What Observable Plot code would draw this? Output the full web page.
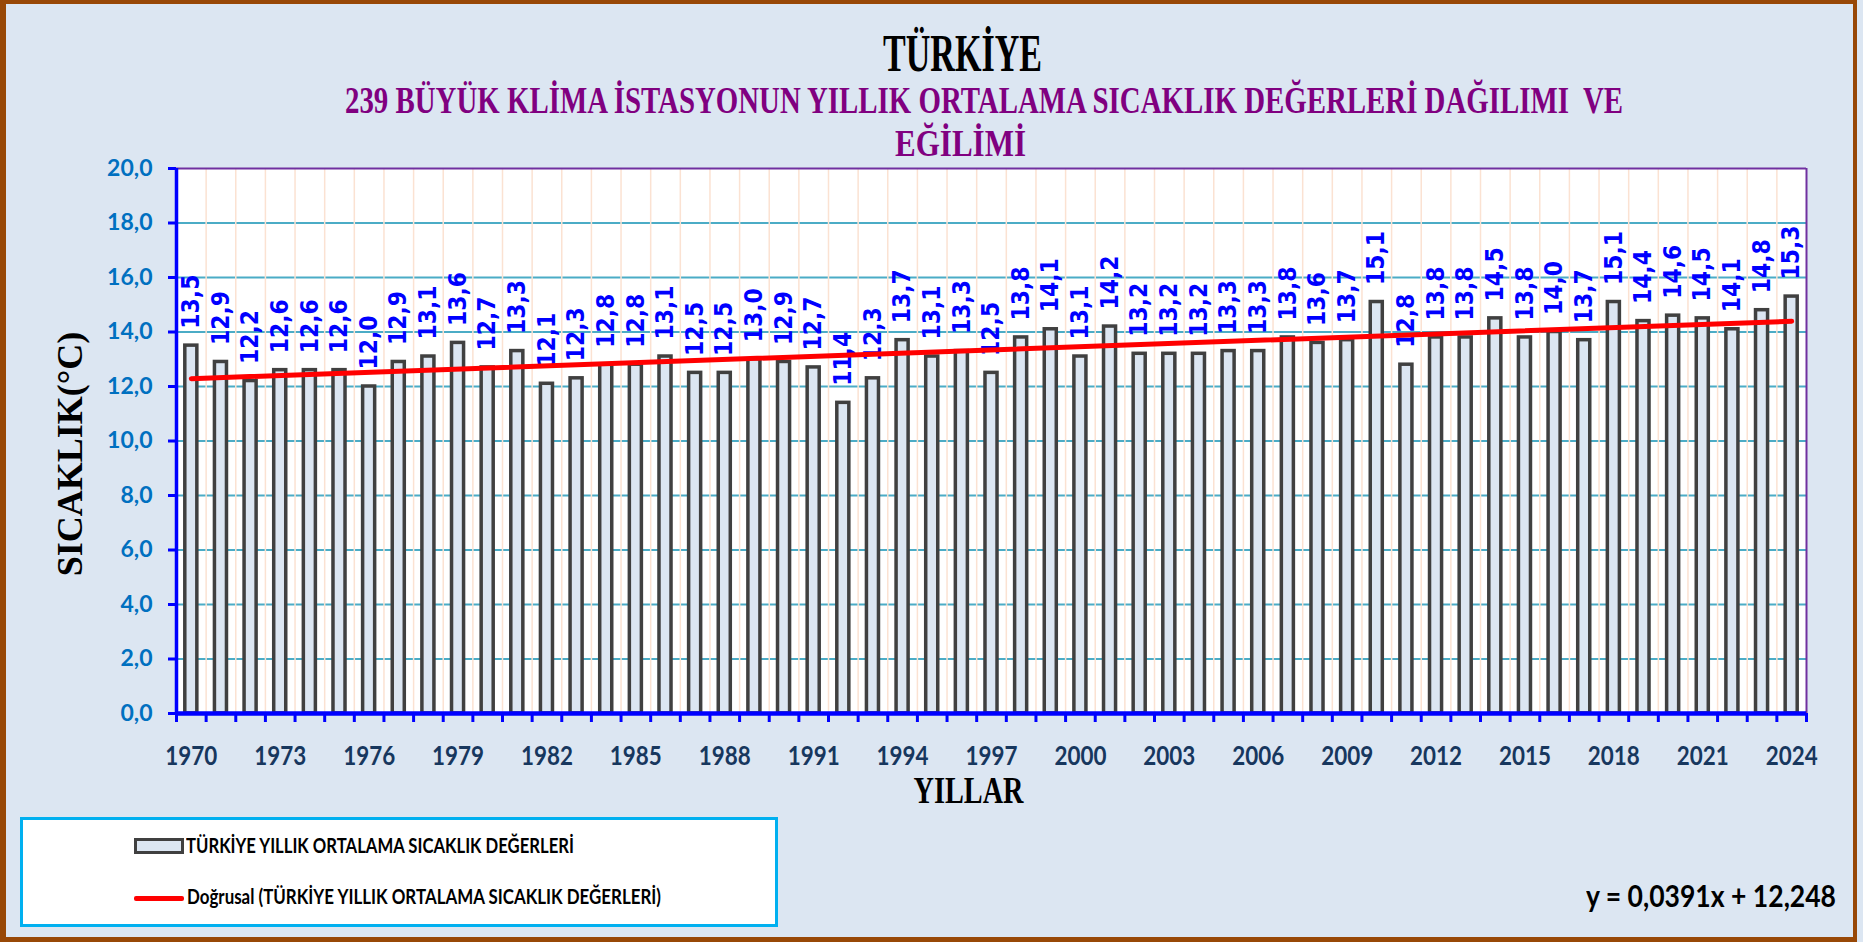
<!DOCTYPE html>
<html><head><meta charset="utf-8">
<script src="https://cdn.jsdelivr.net/npm/d3@7"></script>
<script src="https://cdn.jsdelivr.net/npm/@observablehq/plot@0.6"></script>
<style>
html,body{margin:0;padding:0;background:#dce6f2;}
#page{position:relative;width:1863px;height:942px;overflow:hidden;background:#dce6f2;}
#frame{position:absolute;left:0;top:0;width:1857px;height:942px;box-sizing:border-box;border-style:solid;border-color:#984807;border-width:4px 4px 5px 6px;}
.t{position:absolute;white-space:pre;line-height:1;transform-origin:0 0;margin:0;}
#chart{position:absolute;left:0;top:150px;}
.box{position:absolute;box-sizing:border-box;}
</style></head>
<body><div id="page"><div id="frame"></div><div id="chart"></div></div>
<script>
const years = [1970,1971,1972,1973,1974,1975,1976,1977,1978,1979,
  1980,1981,1982,1983,1984,1985,1986,1987,1988,1989,
  1990,1991,1992,1993,1994,1995,1996,1997,1998,1999,
  2000,2001,2002,2003,2004,2005,2006,2007,2008,2009,
  2010,2011,2012,2013,2014,2015,2016,2017,2018,2019,
  2020,2021,2022,2023,2024];
const values = [13.5,12.9,12.2,12.6,12.6,12.6,12.0,12.9,13.1,13.6,
  12.7,13.3,12.1,12.3,12.8,12.8,13.1,12.5,12.5,13.0,
  12.9,12.7,11.4,12.3,13.7,13.1,13.3,12.5,13.8,14.1,
  13.1,14.2,13.2,13.2,13.2,13.3,13.3,13.8,13.6,13.7,
  15.1,12.8,13.8,13.8,14.5,13.8,14.0,13.7,15.1,14.4,
  14.6,14.5,14.1,14.8,15.3];
const tickYears = [1970,1973,1976,1979,1982,1985,1988,1991,1994,1997,2000,2003,2006,2009,2012,2015,2018,2021,2024];
const yTicks = [0,2,4,6,8,10,12,14,16,18,20];
const titleText = "TÜRKİYE";
const subtitle1 = "239 BÜYÜK KLİMA İSTASYONUN YILLIK ORTALAMA SICAKLIK DEĞERLERİ DAĞILIMI  VE";
const subtitle2 = "EĞİLİMİ";
const yLabel = "SICAKLIK(°C)";
const xLabel = "YILLAR";
const legendBars = "TÜRKİYE YILLIK ORTALAMA SICAKLIK DEĞERLERİ";
const legendTrend = "Doğrusal (TÜRKİYE YILLIK ORTALAMA SICAKLIK DEĞERLERİ)";
const equation = "y = 0,0391x + 12,248";

const fmt = v => v.toFixed(1).replace(".", ",");
const data = years.map((year, i) => ({year, value: values[i]}));
const boundaries = years.map(y => y - 0.5).concat([years[years.length - 1] + 0.5]);

const chart = Plot.plot({
  width: 1863, height: 670,
  marginTop: 18, marginBottom: 107, marginLeft: 176, marginRight: 57,
  style: {background: "transparent", fontFamily: "Lato, sans-serif", overflow: "visible"},
  x: {domain: [boundaries[0], boundaries[boundaries.length - 1]]},
  y: {domain: [0, 20]},
  marks: [
    Plot.frame({fill: "white", stroke: "none"}),
    Plot.ruleY(yTicks.filter(v => v > 0 && v < 20), {stroke: "#4bacc6", strokeWidth: 2}),
    Plot.ruleX(boundaries.slice(1, -1), {stroke: "#fbe2d2", strokeWidth: 1.5}),
    Plot.rectY(data, {x1: d => d.year - 0.5, x2: d => d.year + 0.5, y: "value", insetLeft: 8.8, insetRight: 8.8,
      fill: "#dce6f2", stroke: "#404040", strokeWidth: 3.5}),
    Plot.text(data, {x: "year", y: "value", text: d => fmt(d.value), rotate: -90, textAnchor: "start", lineAnchor: "middle",
      dy: -17, fill: "#0000ff", fontSize: 24, fontWeight: "bold", fontFamily: "DejaVu Sans"}),
    Plot.linearRegressionY(data, {x: "year", y: "value", ci: 0, stroke: "#ff0000", strokeWidth: 5, strokeLinecap: "round"}),
    Plot.ruleY([20], {stroke: "#7030a0", strokeWidth: 2}),
    Plot.ruleX([boundaries[boundaries.length - 1]], {stroke: "#7030a0", strokeWidth: 2}),
    Plot.ruleX([boundaries[0]], {stroke: "#0000ff", strokeWidth: 3.5}),
    Plot.ruleY([0], {stroke: "#0000ff", strokeWidth: 4.5}),
    Plot.axisY({ticks: yTicks, tickSize: 8, tickPadding: 16, tickFormat: fmt, stroke: "#0000ff", strokeWidth: 3,
      fill: "#0070c0", fontSize: 23, fontWeight: "bold", label: null}),
    Plot.axisX({ticks: boundaries, tickSize: 9, tickFormat: () => "", stroke: "#0000ff", strokeWidth: 3, label: null}),
    Plot.axisX({ticks: tickYears, tickSize: 0, tickPadding: 32, tickFormat: d => String(d), fill: "#17375e",
      fontSize: 27, fontWeight: "bold", label: null}),
    Plot.text([yLabel], {frameAnchor: "left", textAnchor: "middle", lineAnchor: "middle", dx: -106, dy: 13, rotate: -90,
      fontFamily: "Liberation Serif", fontWeight: "bold", fontSize: 36, fill: "black"}),
    Plot.text([xLabel], {frameAnchor: "bottom", textAnchor: "middle", dx: -23, dy: 77.5, lineAnchor: "middle",
      fontFamily: "Liberation Serif", fontWeight: "bold", fontSize: 38, fill: "black"})
  ]
});
document.getElementById("chart").appendChild(chart);

d3.select(chart).selectAll("text").each(function() {
  const t = this.textContent;
  const parentLabel = this.parentNode && this.parentNode.getAttribute("aria-label");
  if (/^\d{4}$/.test(t)) { this.setAttribute("textLength", 52); this.setAttribute("lengthAdjust", "spacingAndGlyphs"); }
  if (t === xLabel) { this.setAttribute("textLength", 110); this.setAttribute("lengthAdjust", "spacingAndGlyphs"); }
  if (parentLabel === "text" && /^\d+,\d$/.test(t)) { this.setAttribute("textLength", 54); this.setAttribute("lengthAdjust", "spacingAndGlyphs"); }
});

const page = document.getElementById("page");
function place(text, {x, w, baseline, size, family, color, ratio}) {
  const el = document.createElement("div");
  el.className = "t";
  el.textContent = text;
  el.style.fontFamily = family;
  el.style.fontWeight = "bold";
  el.style.fontSize = size + "px";
  el.style.color = color;
  el.style.left = x + "px";
  el.style.top = (baseline - ratio * size) + "px";
  page.appendChild(el);
  const nat = el.getBoundingClientRect().width;
  el.style.transform = `scaleX(${w / nat})`;
  return el;
}
function box(style) {
  const el = document.createElement("div");
  el.className = "box";
  Object.assign(el.style, style);
  page.appendChild(el);
  return el;
}
const SERIF = "'Liberation Serif', 'Times New Roman', serif", SANS = "Lato, sans-serif";
const RS = 0.8375, RL = 0.887;
place(titleText, {x: 883, w: 159, baseline: 72, size: 52, family: SERIF, color: "#000", ratio: RS});
place(subtitle1, {x: 345, w: 1278, baseline: 113, size: 38, family: SERIF, color: "#800080", ratio: RS});
place(subtitle2, {x: 895, w: 131, baseline: 156, size: 38, family: SERIF, color: "#800080", ratio: RS});

box({left: "20px", top: "817px", width: "758px", height: "110px", border: "3px solid #00b0f0", background: "#fff"});
box({left: "134px", top: "838px", width: "50px", height: "16px", border: "3px solid #404040", background: "#dce6f2"});
box({left: "134px", top: "895.5px", width: "50px", height: "5px", background: "#ff0000", borderRadius: "2px"});
place(legendBars, {x: 186, w: 388, baseline: 853, size: 20, family: SANS, color: "#000", ratio: RL});
place(legendTrend, {x: 187, w: 474, baseline: 904, size: 20, family: SANS, color: "#000", ratio: RL});
place(equation, {x: 1586, w: 250, baseline: 907, size: 30, family: SANS, color: "#000", ratio: RL});
</script>
</body></html>
